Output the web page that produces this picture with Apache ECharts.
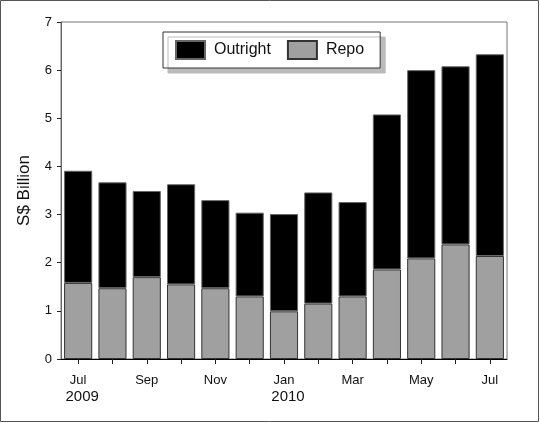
<!DOCTYPE html>
<html><head><meta charset="utf-8">
<script src="https://cdn.jsdelivr.net/npm/echarts@6/dist/echarts.min.js"></script>
<style>html,body{margin:0;padding:0;background:#fff}#c{width:540px;height:423px}</style>
</head><body><div id="c"></div>
<script>
var months = ['Jul','Aug','Sep','Oct','Nov','Dec','Jan','Feb','Mar','Apr','May','Jun','Jul'];
var years  = ['2009','','','','','','2010','','','','','',''];
var totals = [3.91, 3.67, 3.49, 3.63, 3.30, 3.04, 3.01, 3.46, 3.26, 5.08, 6.00, 6.08, 6.33];
var repo   = [1.58, 1.47, 1.70, 1.55, 1.47, 1.30, 0.99, 1.15, 1.30, 1.86, 2.09, 2.38, 2.14];
var outright = totals.map(function(t, i){ return +(t - repo[i]).toFixed(2); });
var yTicks = [0,1,2,3,4,5,6,7];
var cats = months.map(function(m, i){ return i + ''; });

var chart = echarts.init(document.getElementById('c'), null, {renderer:'canvas'});
var font = 'Liberation Sans, Arial, sans-serif';
chart.setOption({
  animation:false,
  backgroundColor:'#fff',
  graphic:[{type:'rect', shape:{x:0.5,y:0.5,width:538,height:421}, style:{fill:'none', stroke:'#555', lineWidth:1}, z:-1}],
  legend:{
    left:163, top:32,
    orient:'horizontal',
    data:[{name:'Outright', icon:'rect'},{name:'Repo', icon:'rect'}],
    backgroundColor:'#fff', borderColor:'#333', borderWidth:1,
    shadowColor:'#bbb', shadowOffsetX:5, shadowOffsetY:5, shadowBlur:0,
    padding:[8,16,8,12], itemGap:16, itemWidth:29, itemHeight:18,
    textStyle:{fontFamily:font, fontSize:16, color:'#111', padding:[0,0,0,4]}
  },
  grid:{left:61, right:33, top:22, bottom:64, show:true, borderColor:'#777', borderWidth:1},
  xAxis:[{
    type:'category', data:cats,
    axisLine:{lineStyle:{color:'#000', width:1}},
    axisTick:{show:true, interval:0, alignWithLabel:true, length:5, lineStyle:{color:'#222'}},
    axisLabel:{interval:1, margin:14, fontFamily:font, color:'#111',
      formatter:function(v){ var i=+v; return '{m|'+months[i]+'}' + (years[i] ? '\n{y|'+years[i]+'}' : ''); },
      rich:{m:{fontFamily:font, fontSize:13, color:'#111', lineHeight:15},
            y:{fontFamily:font, fontSize:15, color:'#111', lineHeight:17, padding:[0,0,0,8]}}}
  },{
    type:'category', data:cats, position:'bottom', offset:0,
    axisLine:{show:false},
    axisTick:{show:true, inside:true, interval:0, alignWithLabel:true, length:4, lineStyle:{color:'#222'}},
    axisLabel:{show:false}
  }],
  yAxis:{
    type:'value', min:0, max:7, interval:1,
    name:'S$ Billion', nameLocation:'middle', nameGap:28,
    nameTextStyle:{fontFamily:font, fontSize:17, color:'#111'},
    axisLine:{show:true, lineStyle:{color:'#666'}},
    axisTick:{show:true, length:4, lineStyle:{color:'#222'}},
    axisLabel:{margin:9, fontFamily:font, fontSize:13, color:'#111',
      formatter:function(v){ return yTicks.indexOf(v) >= 0 ? String(v) : ''; }},
    splitLine:{show:false}
  },
  series:[
    {name:'Repo', type:'bar', stack:'t', data:repo, barCategoryGap:'18%',
     itemStyle:{color:'#a0a0a0', borderColor:'#333', borderWidth:1}},
    {name:'Outright', type:'bar', stack:'t', data:outright, barCategoryGap:'18%',
     itemStyle:{color:'#000', borderColor:'#666', borderWidth:1}}
  ]
});
</script></body></html>
